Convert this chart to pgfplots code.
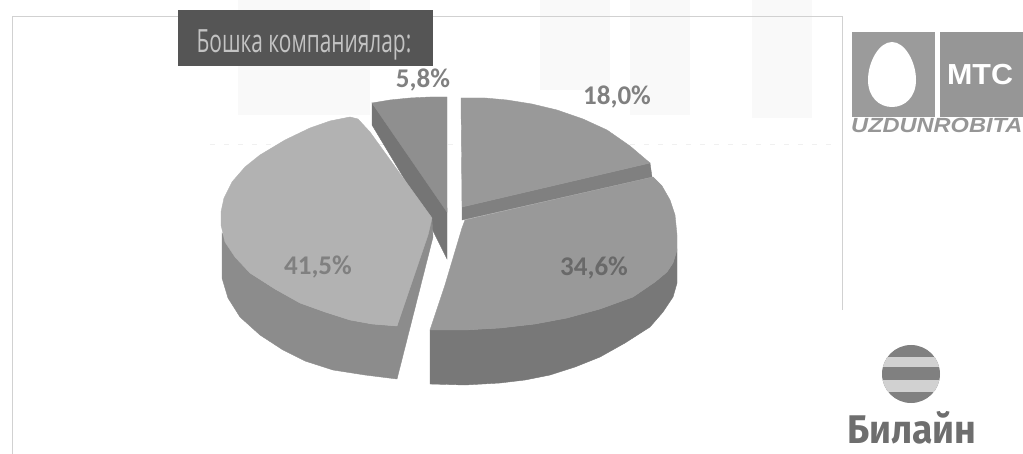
\documentclass[border=0pt]{standalone}
\usepackage{pgfplots}
\pgfplotsset{compat=1.18}
\usepackage{fontspec}
\setmainfont{Carlito}
\newfontfamily\opn{Open Sans}
\newfontfamily\lib{Liberation Sans}
\newfontfamily\fira{Fira Sans}
\begin{document}
\begin{tikzpicture}
\definecolor{frm}{gray}{0.82}
\definecolor{ghost}{gray}{0.975}
\definecolor{aT}{gray}{0.60}\definecolor{aS}{gray}{0.50}
\definecolor{bT}{gray}{0.60}\definecolor{bS}{gray}{0.47}
\definecolor{cT}{gray}{0.70}\definecolor{cS}{gray}{0.55}
\definecolor{dT}{gray}{0.56}\definecolor{dS}{gray}{0.46}
\definecolor{lab}{gray}{0.50}
\definecolor{sph}{gray}{0.50}
\definecolor{sphl}{gray}{0.82}
\path[use as bounding box] (0,0) rectangle (1023pt,454pt);
\begin{axis}[
  scale only axis, width=1023pt, height=454pt,
  xmin=0, xmax=1023, ymin=0, ymax=454, y dir=reverse,
  hide axis, clip=true,
  every axis plot/.append style={line width=0.4pt}
]
% faint background
\addplot[fill=ghost,draw=none] coordinates {(238,0)(370,0)(370,115)(238,115)} -- cycle;
\addplot[fill=ghost,draw=none] coordinates {(540,0)(610,0)(610,90)(540,90)} -- cycle;
\addplot[fill=ghost,draw=none] coordinates {(630,0)(690,0)(690,115)(630,115)} -- cycle;
\addplot[fill=ghost,draw=none] coordinates {(752,0)(812,0)(812,118)(752,118)} -- cycle;
\addplot[gray!12,dash pattern=on 5pt off 9pt,line width=1pt] coordinates {(210,145)(840,145)};
% frame
\addplot[frm,line width=1pt] coordinates {(842,310)(842,17)(12,17)(12,454)};
% 5.8
\addplot[fill=dS,draw=dS] coordinates {(372,103)(372,125)(420,205)(447,259)(447,208)} -- cycle;
\addplot[fill=dT,draw=dT] coordinates {(372,103)(390,100)(410,98)(430,97)(447,97)(447,212)} -- cycle;
% 18.0
\addplot[fill=aS,draw=aS] coordinates {(650,163)(652,177)(462,220)(462,207)} -- cycle;
\addplot[fill=aT,draw=aT] coordinates {(461,98)(485,98)(507,100)(532,104)(557,110)(583,119)(607,130)(630,146)(650,163)(462,207)} -- cycle;
% 34.6
\addplot[fill=bS,draw=bS] coordinates {(430,330)(465,330)(500,328)(535,324)(567,318)(600,309)(633,297)(655,282)(667,272)(673,263)(677,250)(677,283)(673,297)(663,312)(650,327)(625,343)(600,357)(575,367)(550,375)(525,380)(500,383)(465,385)(430,384)} -- cycle;
\addplot[fill=bT,draw=bT] coordinates {(465,220)(653,177)(662,186)(670,200)(675,215)(677,235)(677,250)(673,263)(667,272)(655,282)(633,297)(600,309)(567,318)(535,324)(500,328)(465,330)(430,330)(445,285)(462,228)} -- cycle;
% 41.5
\addplot[fill=cS,draw=cS] coordinates {(222,233)(235,255)(250,273)(275,289)(300,303)(325,312)(350,320)(372,324)(397,326)(432,220)(433,237)(397,379)(365,375)(333,370)(305,361)(283,350)(260,335)(240,317)(228,298)(222,278)} -- cycle;
\addplot[fill=cT,draw=cT] coordinates {(350,117)(358,119)(370,132)(432,218)(428,235)(397,326)(372,324)(350,320)(325,312)(300,303)(275,289)(250,273)(235,257)(225,242)(221,225)(221,212)(224,198)(232,182)(245,167)(260,155)(285,140)(310,128)(330,121)} -- cycle;
% box
\addplot[fill={rgb,255:red,85;green,85;blue,85},draw=none] coordinates {(178,10)(433,10)(433,66)(178,66)} -- cycle;
% MTS logo
\addplot[fill={rgb,255:red,155;green,155;blue,155},draw=none] coordinates {(852,32)(935,32)(935,117)(852,117)} -- cycle;
\addplot[fill={rgb,255:red,150;green,150;blue,150},draw=none] coordinates {(940,32)(1023,32)(1023,117)(940,117)} -- cycle;
\draw[fill=white,draw=none] (axis cs:892,42) .. controls (axis cs:905,42) and (axis cs:916,62) .. (axis cs:916,80) .. controls (axis cs:916,97) and (axis cs:905,107) .. (axis cs:892,107) .. controls (axis cs:879,107) and (axis cs:868,97) .. (axis cs:868,80) .. controls (axis cs:868,62) and (axis cs:879,42) .. (axis cs:892,42) -- cycle;
\node[text=white,font=\lib\bfseries\fontsize{29}{29}\selectfont,xscale=1.05,inner sep=0pt] at (axis cs:980,75) {МТС};
\node[text={rgb,255:red,150;green,150;blue,150},font=\lib\bfseries\itshape\fontsize{20.5}{20.5}\selectfont,anchor=west,inner sep=0pt,xscale=1.15] at (axis cs:851,125) {UZDUNROBITA};
% Beeline logo
\fill[sph] (axis cs:911,374) circle [radius=29pt];
\begin{scope}
\clip (axis cs:911,374) circle [radius=29pt];
\fill[sphl] (axis cs:880,357) rectangle (axis cs:942,367);
\fill[sphl] (axis cs:880,380) rectangle (axis cs:942,392);
\end{scope}
\node[text={rgb,255:red,110;green,110;blue,110},font=\fira\bfseries\fontsize{40}{40}\selectfont,anchor=west,inner sep=0pt,xscale=0.93] at (axis cs:847,428) {Билайн};
% labels
\node[text={rgb,255:red,195;green,195;blue,195},font=\opn\fontsize{32}{32}\selectfont,xscale=0.652,inner sep=0pt] at (axis cs:304,45) {Бошка компаниялар:};
\node[text=lab,font=\bfseries\fontsize{27}{27}\selectfont,inner sep=0pt] at (axis cs:423,80) {5,8\%};
\node[text=lab,font=\bfseries\fontsize{27}{27}\selectfont,inner sep=0pt] at (axis cs:617,97) {18,0\%};
\node[text=lab,font=\bfseries\fontsize{27}{27}\selectfont,inner sep=0pt] at (axis cs:318,267) {41,5\%};
\node[text={rgb,255:red,105;green,105;blue,105},font=\bfseries\fontsize{27}{27}\selectfont,inner sep=0pt] at (axis cs:594,268) {34,6\%};
\end{axis}
\end{tikzpicture}
\end{document}
